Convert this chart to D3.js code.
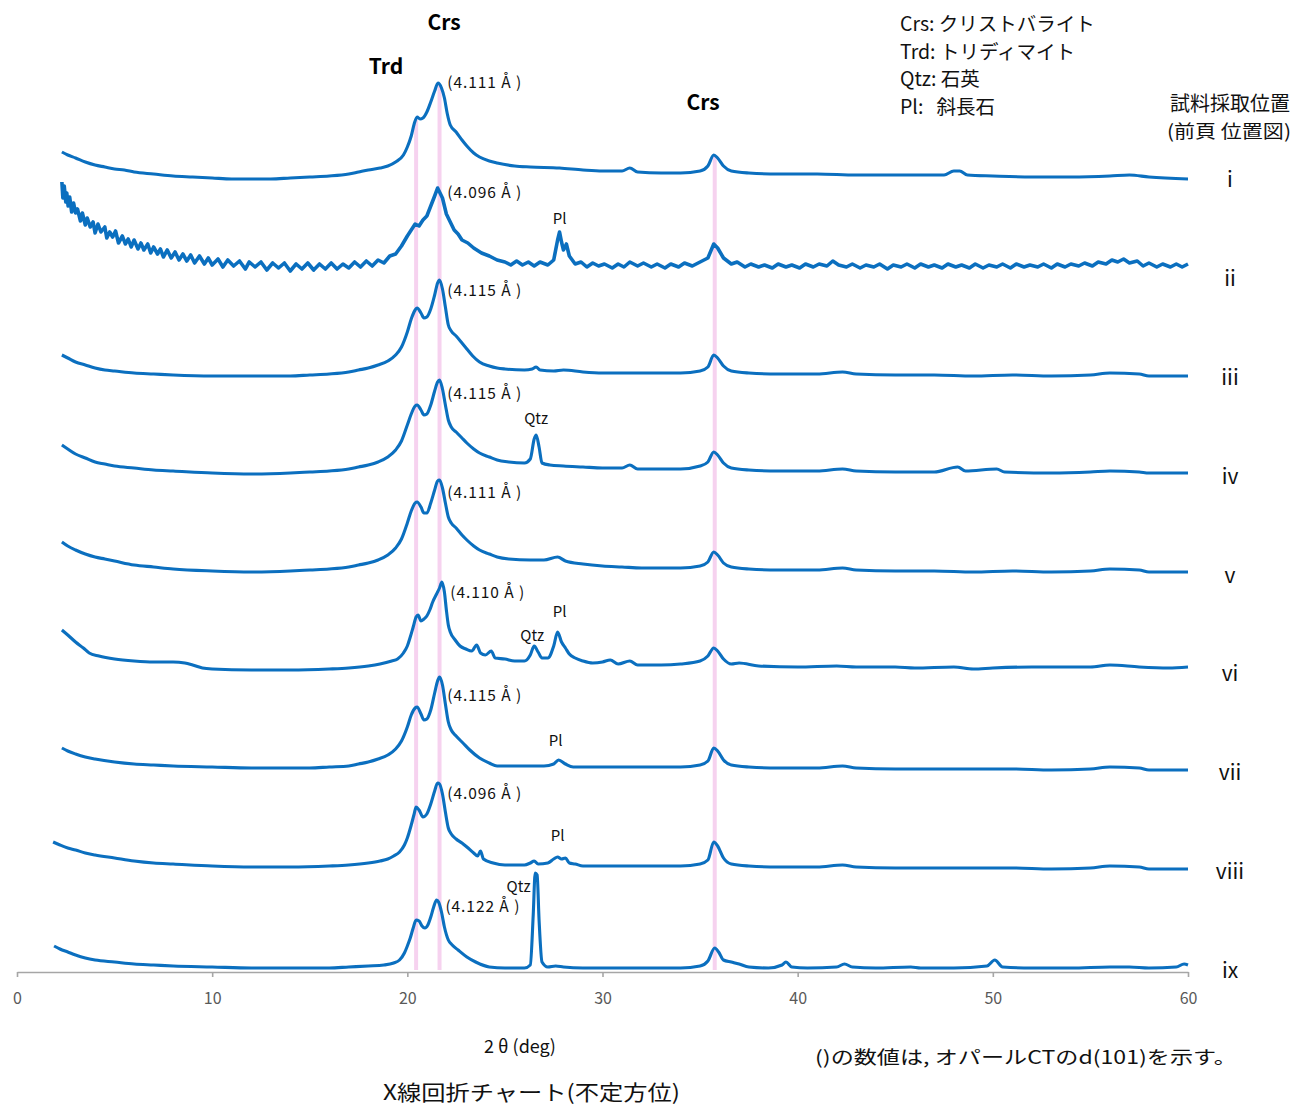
<!DOCTYPE html>
<html><head><meta charset="utf-8">
<script src="https://cdn.jsdelivr.net/npm/d3@7"></script>
<style>
body{margin:0;background:#fff}
text{font-family:"Noto Sans CJK JP","Noto Sans",sans-serif}
</style>
</head><body>
<svg id="chart" width="1295" height="1106"></svg>
<script>
// ---------- data ----------
const xTicks = [0, 10, 20, 30, 40, 50, 60];
const sampleNames = ["i", "ii", "iii", "iv", "v", "vi", "vii", "viii", "ix"];
const traceOffsets = [790, 702, 595, 497, 399, 302, 202, 102, 2];
const dSpacingLabels = ["(4.111 Å )", "(4.096 Å )", "(4.115 Å )", "(4.115 Å )", "(4.111 Å )", "(4.110 Å )", "(4.115 Å )", "(4.096 Å )", "(4.122 Å )"];
const dLabelAt = [[22.05, 94], [22.05, 72], [22.05, 81], [22.05, 76], [22.05, 75], [22.2, 72], [22.05, 69], [22.05, 71], [21.95, 58]];
const referenceLines = [20.45, 21.65, 35.75];
const phaseMarks = [
  {trace: 1, x: 27.8, level: 46, text: "Pl"},
  {trace: 3, x: 26.6, level: 51, text: "Qtz"},
  {trace: 5, x: 26.4, level: 29, text: "Qtz"},
  {trace: 5, x: 27.8, level: 53, text: "Pl"},
  {trace: 6, x: 27.6, level: 24, text: "Pl"},
  {trace: 7, x: 27.7, level: 29, text: "Pl"},
  {trace: 8, x: 25.7, level: 78, text: "Qtz"}
];
const legendLines = ["Crs: クリストバライト", "Trd: トリディマイト", "Qtz: 石英", "Pl:   斜長石"];

const trace_i = [[2.3,30],[2.6,27],[3,24],[3.5,20],[4,17],[4.5,15],[5,13],[5.5,12],[6,10],[7,8],[8,6],[9,5],[10,4],[11,3],[12,3],[13,3],[14,4],[15,5],[16,6],[17,8],[17.5,10],[18,12],[18.6,14],[19,16],[19.4,20],[19.8,27],[20.0,35],[20.2,46],[20.35,58],[20.5,65],[20.65,63],[20.8,64],[21.0,70],[21.2,80],[21.4,91],[21.57,99],[21.75,94],[21.9,84],[22.05,68],[22.2,57],[22.5,50],[22.8,42],[23.05,36],[23.4,29],[23.7,25],[24.2,21],[24.6,19],[25.5,16],[26.3,15],[27.8,14],[29,12],[30,11],[31,11],[31.4,14],[31.8,10],[33,9],[34,9],[35,11],[35.4,16],[35.7,27],[35.9,24],[36.2,16],[36.6,11],[37.5,9],[39,8],[41,8],[43,7],[45,7],[47.5,7],[48.0,11],[48.3,11],[48.7,7],[50,6],[52,5],[54,5],[56,6],[57,7],[58,5],[60,3]];
const trace_ii = [[2.3,88],[2.35,72],[2.42,84],[2.5,68],[2.55,77],[2.62,64],[2.7,73],[2.8,58],[2.9,67],[3.0,57],[3.1,61],[3.25,49],[3.35,57],[3.5,45],[3.6,52],[3.75,43],[3.9,48],[4.0,37],[4.15,46],[4.3,38],[4.5,43],[4.6,32],[4.75,38],[4.9,33],[5.05,39],[5.2,27],[5.4,34],[5.55,26],[5.7,31],[5.85,23],[6.0,30],[6.2,21],[6.35,27],[6.5,20],[6.7,26],[6.85,17],[7.0,23],[7.2,16],[7.35,21],[7.5,13],[7.7,20],[7.9,12],[8.1,18],[8.3,10],[8.5,16],[8.7,9],[8.9,15],[9.1,7],[9.35,14],[9.6,6],[9.8,12],[10.0,5],[10.3,11],[10.55,3],[10.8,10],[11.1,4],[11.4,9],[11.7,1],[11.9,8],[12.2,3],[12.5,8],[12.8,0],[13.1,7],[13.4,2],[13.7,7],[14.0,-1],[14.3,6],[14.6,1],[14.9,7],[15.2,0],[15.5,6],[15.8,1],[16.1,7],[16.4,1],[16.7,6],[17.0,2],[17.3,8],[17.6,3],[17.9,9],[18.2,4],[18.5,10],[18.8,7],[19.1,14],[19.4,16],[19.7,24],[20.0,34],[20.2,40],[20.4,46],[20.6,44],[20.8,50],[21.0,54],[21.2,64],[21.4,74],[21.55,82],[21.65,78],[21.8,72],[22.0,56],[22.2,48],[22.4,40],[22.6,36],[22.8,30],[23.1,27],[23.4,22],[23.8,17],[24.2,14],[24.6,10],[25,8],[25.3,5],[25.6,9],[25.9,5],[26.2,8],[26.5,4],[26.8,8],[27.2,5],[27.5,10],[27.7,30],[27.8,38],[27.9,28],[28.0,20],[28.15,26],[28.3,14],[28.6,6],[28.9,8],[29.2,3],[29.5,7],[29.8,4],[30.1,6],[30.5,2],[30.8,6],[31.1,3],[31.4,8],[31.8,4],[32.1,7],[32.5,3],[32.8,6],[33.2,2],[33.5,6],[33.9,3],[34.2,7],[34.6,4],[35,8],[35.4,12],[35.7,26],[35.9,22],[36.2,12],[36.6,6],[36.9,8],[37.3,3],[37.6,6],[38.0,3],[38.3,5],[38.7,2],[39.0,6],[39.4,3],[39.7,5],[40.1,2],[40.4,6],[40.8,3],[41.1,6],[41.5,4],[41.8,9],[42.1,5],[42.5,3],[42.8,6],[43.2,2],[43.5,5],[43.9,3],[44.2,6],[44.6,1],[44.9,5],[45.3,3],[45.6,6],[46.0,2],[46.3,6],[46.7,3],[47.0,5],[47.4,2],[47.7,6],[48.1,3],[48.4,5],[48.8,2],[49.1,6],[49.5,2],[49.8,5],[50.2,3],[50.5,6],[50.9,2],[51.2,6],[51.6,3],[51.9,5],[52.3,3],[52.6,6],[53.0,2],[53.3,6],[53.7,3],[54.0,6],[54.4,4],[54.7,7],[55.1,4],[55.4,8],[55.8,6],[56.1,10],[56.4,8],[56.7,11],[57.0,7],[57.4,9],[57.7,4],[58.0,7],[58.4,3],[58.7,6],[59.1,3],[59.4,6],[59.7,3],[60,6]];
const trace_iii = [[2.3,22],[2.6,19],[3,15],[3.5,12],[4,9],[4.5,7],[5,6],[6,4],[7,3],[8,2],[10,1],[12,1],[14,1],[15,2],[16,3],[17,5],[17.5,7],[18,9],[18.5,12],[19,16],[19.4,22],[19.7,30],[20.0,45],[20.2,58],[20.4,67],[20.5,69],[20.7,64],[20.85,59],[21.0,60],[21.2,68],[21.4,82],[21.55,94],[21.65,97],[21.8,88],[21.95,70],[22.1,52],[22.25,46],[22.5,41],[22.8,34],[23.05,28],[23.35,21],[23.7,15],[24.2,11],[24.6,9],[25,8],[26,7],[26.4,8],[26.6,10],[26.8,7],[27.5,6],[28,7],[29,5],[30,4],[31,4],[32,4],[33,4],[34,4],[35,6],[35.4,10],[35.7,22],[35.9,19],[36.2,11],[36.6,6],[37.5,4],[39,3],[41,3],[42.3,5],[43,3],[45,2],[47,2],[49,1],[51,2],[53,1],[55,2],[56,4],[57.5,3],[58,1],[60,1]];
const trace_iv = [[2.3,30],[2.6,26],[3,21],[3.5,17],[4,13],[4.5,11],[5,9],[6,7],[7,5],[8,4],[10,2],[12,1],[14,2],[15,3],[16,4],[17,6],[17.5,8],[18,10],[18.5,13],[19,18],[19.4,25],[19.7,34],[20.0,50],[20.2,61],[20.4,69],[20.5,70],[20.7,65],[20.85,60],[21.0,61],[21.2,70],[21.4,84],[21.55,93],[21.65,95],[21.8,86],[21.95,70],[22.1,55],[22.25,48],[22.5,43],[22.8,37],[23.05,32],[23.4,26],[23.7,22],[24.2,18],[24.6,15],[25.2,13],[26.0,12],[26.3,16],[26.5,36],[26.6,40],[26.75,28],[26.9,12],[27.3,10],[28,9],[29,8],[30,7],[31,7],[31.4,10],[31.8,6],[33,6],[34,6],[35,9],[35.4,13],[35.7,23],[35.9,20],[36.2,12],[36.6,7],[37.5,5],[39,4],[41,4],[42.3,6],[43,4],[45,3],[47,3],[48.2,8],[48.6,4],[50.2,6],[50.6,3],[53,2],[55,3],[56,4],[57.5,3],[58,2],[60,2]];
const trace_v = [[2.3,31],[2.6,27],[3,23],[3.5,19],[4,16],[4.5,14],[5,12],[6,8],[7,6],[8,4],[10,2],[12,1],[14,2],[15,3],[16,4],[17,6],[17.5,8],[18,10],[18.5,13],[19,18],[19.4,25],[19.7,34],[20.0,50],[20.2,62],[20.4,70],[20.5,71],[20.7,66],[20.85,60],[21.0,60],[21.2,70],[21.4,83],[21.55,92],[21.65,93],[21.8,85],[21.95,70],[22.1,56],[22.25,50],[22.5,45],[22.8,38],[23.05,33],[23.4,27],[23.7,23],[24.2,19],[24.6,16],[25.2,14],[26.3,13],[27.0,13],[27.7,16],[28.1,12],[29,9],[30,7],[31,6],[32,5],[33,5],[34,5],[35,7],[35.4,11],[35.7,21],[35.9,18],[36.2,10],[36.6,6],[37.5,4],[39,3],[41,3],[42.3,5],[43,3],[45,2],[47,2],[49,1],[51,2],[53,1],[55,2],[56,4],[57.5,3],[58,1],[60,1]];
const trace_vi = [[2.3,40],[2.6,35],[3,28],[3.4,22],[3.7,17],[4.2,14],[5,11],[6,9],[7,8],[8,8],[8.6,7],[9,5],[9.5,2],[10,1],[12,0],[14,0],[16,1],[17,2],[18,4],[18.6,6],[19.2,9],[19.5,11],[19.8,17],[20.0,24],[20.15,33],[20.3,43],[20.45,53],[20.55,55],[20.7,49],[20.85,51],[21.0,54],[21.15,60],[21.3,68],[21.5,76],[21.65,82],[21.77,88],[21.9,78],[22.0,60],[22.1,45],[22.2,38],[22.45,30],[22.7,24],[23.0,21],[23.3,19],[23.55,25],[23.75,17],[24.0,15],[24.3,19],[24.5,12],[25,11],[25.5,9],[26,9],[26.3,15],[26.5,24],[26.7,18],[26.9,12],[27.2,12],[27.5,24],[27.7,38],[27.9,28],[28.1,22],[28.3,16],[28.6,12],[29,9],[29.5,7],[30,8],[30.4,10],[30.8,6],[31.4,9],[31.8,5],[33,5],[34,6],[35,9],[35.4,14],[35.7,22],[35.9,19],[36.2,11],[36.6,6],[37,7],[38,4],[40,3],[42,4],[43,3],[45,3],[46,2],[48,3],[49,1],[50,2],[52,3],[55,3],[56,5],[57.5,3],[59,2],[60,3]];
const trace_vii = [[2.3,22],[2.6,19],[3,16],[3.5,13],[4,11],[5,8],[6,6],[7,5],[8,4],[10,3],[12,2],[14,2],[15,2],[16,3],[17,4],[17.5,6],[18,8],[18.5,11],[19,15],[19.4,21],[19.7,29],[20.0,43],[20.2,55],[20.4,62],[20.5,63],[20.7,56],[20.85,50],[21.0,51],[21.2,60],[21.4,77],[21.55,89],[21.65,93],[21.8,85],[21.95,66],[22.1,48],[22.25,40],[22.5,34],[22.85,27],[23.2,20],[23.7,12],[24.2,7],[24.6,4],[25,4],[26,4],[27,4],[27.5,6],[27.75,10],[28.1,6],[28.5,3],[29,3],[30,3],[31,3],[32,3],[33,3],[34,3],[35,5],[35.4,9],[35.7,22],[35.9,19],[36.2,10],[36.6,5],[37.5,3],[39,2],[41,2],[42.3,4],[43,2],[45,1],[47,1],[49,1],[51,1],[53,0],[55,1],[56,3],[57.5,2],[58,0],[60,0]];
const trace_viii = [[1.85,28],[2.2,25],[2.6,22],[3,20],[3.5,17],[4,15],[5,12],[6,9],[7,7],[8,6],[10,4],[12,3],[14,3],[16,4],[17,5],[18,7],[18.6,9],[19.0,11],[19.3,14],[19.6,18],[19.85,25],[20.0,32],[20.2,45],[20.35,56],[20.45,63],[20.6,60],[20.8,53],[21.0,56],[21.2,66],[21.4,79],[21.55,87],[21.65,86],[21.8,76],[21.95,58],[22.1,42],[22.25,36],[22.5,31],[22.8,27],[23.05,23],[23.4,17],[23.6,14],[23.75,19],[23.9,11],[24.4,7],[25,5],[26,5],[26.3,7],[26.5,9],[26.7,6],[27.2,7],[27.5,11],[27.7,13],[27.9,11],[28.1,12],[28.3,7],[28.6,6],[29,4],[30,4],[31,4],[32,4],[33,4],[34,4],[35,6],[35.4,10],[35.7,28],[35.9,24],[36.2,12],[36.6,6],[37.5,4],[39,3],[41,3],[42.3,5],[43,3],[45,2],[47,2],[49,2],[51,2],[53,1],[55,2],[56,4],[57.5,3],[58,1],[60,1]];
const trace_ix = [[1.9,24],[2.2,21],[2.6,18],[3,15],[3.5,12],[4,10],[5,8],[6,6],[7,5],[8,4],[10,3],[12,2],[14,2],[16,2],[17,3],[18,4],[18.8,5],[19.3,7],[19.6,10],[19.85,17],[20.0,24],[20.15,32],[20.3,42],[20.45,50],[20.6,49],[20.75,44],[20.9,42],[21.05,45],[21.2,53],[21.35,63],[21.5,70],[21.6,68],[21.75,58],[21.9,43],[22.1,30],[22.3,25],[22.6,20],[23.05,13],[23.5,8],[24.2,3],[25,2],[26,2],[26.3,5],[26.45,55],[26.55,97],[26.65,95],[26.75,50],[26.9,8],[27.2,3],[27.6,4],[28,3],[29,2],[30,2],[31,2],[32,2],[33,2],[34,2],[35,4],[35.4,9],[35.75,22],[35.95,18],[36.2,10],[36.6,8],[37,6],[37.5,3],[38.5,2],[39.2,5],[39.4,8],[39.7,3],[40.5,2],[42,3],[42.4,6],[42.8,3],[44,2],[45.8,3],[46.3,2],[48,2],[49.7,4],[50.1,10],[50.5,3],[52,2],[54,2],[56,3],[57,3],[58,2],[59.4,3],[59.8,6],[60,5]];
const traces = [trace_i, trace_ii, trace_iii, trace_iv, trace_v, trace_vi, trace_vii, trace_viii, trace_ix];

// ---------- drawing ----------
const svg = d3.select("#chart");
const x = d3.scaleLinear().domain([0, 60]).range([17, 1188]);
const y = d3.scaleLinear().domain([0, 900]).range([972, 72]);
const rowY = d3.scalePoint().domain(sampleNames).range([187, 978]);
const blue = "#0b6fbf";

function valueAt(data, xv) {
  const i = d3.bisector(d => d[0]).left(data, xv);
  if (i <= 0) return data[0][1];
  if (i >= data.length) return data[data.length - 1][1];
  const a = data[i - 1], b = data[i];
  return a[1] + (b[1] - a[1]) * (xv - a[0]) / (b[0] - a[0]);
}

// reference (pink) lines
svg.append("g").selectAll("line").data(referenceLines).join("line")
  .attr("x1", d => x(d)).attr("x2", d => x(d))
  .attr("y1", d => y(traceOffsets[0] + valueAt(trace_i, d)))
  .attr("y2", y(0) - 2)
  .attr("stroke", "#f6d2ef").attr("stroke-width", 4);

// axis
const axis = d3.axisBottom(x).tickValues(xTicks).tickSize(5).tickSizeOuter(0).tickPadding(16);
const ag = svg.append("g").attr("transform", `translate(0,${y(0)})`).call(axis);
ag.select(".domain").attr("stroke", "#a6a6a6").attr("stroke-width", 1.6);
ag.selectAll(".tick line").attr("stroke", "#a6a6a6").attr("stroke-width", 1.6);
ag.selectAll(".tick text").attr("fill", "#595959").attr("font-size", 16)
  .attr("font-family", "'Noto Sans', sans-serif");

// traces
const lineSmooth = d3.line().x(d => x(d[0])).y(d => y(d[1])).curve(d3.curveMonotoneX);
const lineRaw = d3.line().x(d => x(d[0])).y(d => y(d[1])).curve(d3.curveLinear);
svg.append("g").selectAll("path").data(traces).join("path")
  .attr("d", (d, i) => (i === 1 ? lineRaw : lineSmooth)(d.map(p => [p[0], p[1] + traceOffsets[i]])))
  .attr("fill", "none").attr("stroke", blue)
  .attr("stroke-width", (d, i) => i === 1 ? 3.6 : 3.1)
  .attr("stroke-linejoin", "round");

// d-spacing labels
svg.append("g").selectAll("text").data(dSpacingLabels).join("text")
  .attr("x", (d, i) => x(dLabelAt[i][0]))
  .attr("y", (d, i) => y(traceOffsets[i] + dLabelAt[i][1]))
  .attr("font-size", 15.5).attr("fill", "#111")
  .attr("font-family", "'Noto Sans', 'Liberation Sans', sans-serif")
  .attr("textLength", 74).attr("lengthAdjust", "spacing")
  .attr("xml:space", "preserve").style("white-space", "pre")
  .text(d => d);

// phase marks
svg.append("g").selectAll("text").data(phaseMarks).join("text")
  .attr("x", d => x(d.x)).attr("y", d => y(traceOffsets[d.trace] + d.level))
  .attr("text-anchor", "middle").attr("font-size", 15).attr("fill", "#111")
  .attr("font-family", "'Liberation Sans', Arial, sans-serif")
  .text(d => d.text);

// sample names (evenly spaced rows)
svg.append("g").selectAll("text").data(sampleNames).join("text")
  .attr("x", 1230).attr("y", d => rowY(d))
  .attr("text-anchor", "middle").attr("font-size", 21).attr("fill", "#111")
  .attr("font-family", "'Liberation Sans Narrow', 'Liberation Sans', Arial, sans-serif")
  .text(d => d);

// bold peak headers
const hdr = [["Crs", 444, 30], ["Trd", 386, 74], ["Crs", 703, 110]];
svg.append("g").selectAll("text").data(hdr).join("text")
  .attr("x", d => d[1]).attr("y", d => d[2]).attr("text-anchor", "middle")
  .attr("font-size", 21).attr("font-weight", "bold").attr("fill", "#000")
  .attr("font-family", "'Liberation Sans', Arial, sans-serif").text(d => d[0]);

// legend
svg.append("g").selectAll("text").data(legendLines).join("text")
  .attr("x", 900).attr("y", (d, i) => 31 + i * 27.7)
  .attr("font-size", 19.5).attr("fill", "#111").attr("xml:space", "preserve")
  .style("white-space", "pre").text(d => d);

svg.append("text").attr("x", 1170).attr("y", 111).attr("font-size", 20)
  .attr("textLength", 120).attr("lengthAdjust", "spacingAndGlyphs").attr("fill", "#111").text("試料採取位置");
svg.append("text").attr("x", 1167).attr("y", 138).attr("font-size", 18.5)
  .attr("textLength", 124).attr("lengthAdjust", "spacingAndGlyphs").attr("fill", "#111").text("(前頁 位置図)");

// axis title and notes
svg.append("text").attr("x", 484).attr("y", 1053)
  .attr("font-size", 18).attr("fill", "#111").attr("xml:space", "preserve")
  .style("white-space", "pre").text("2 θ (deg)");
svg.append("text").attr("x", 815).attr("y", 1064).attr("font-size", 18.5).attr("fill", "#111")
  .attr("textLength", 422).attr("lengthAdjust", "spacingAndGlyphs")
  .text("()の数値は, オパールCTのd(101)を示す。");
svg.append("text").attr("x", 383).attr("y", 1100).attr("font-size", 21).attr("fill", "#111")
  .attr("textLength", 297).attr("lengthAdjust", "spacingAndGlyphs")
  .text("X線回折チャート(不定方位)");
</script>
</body></html>
